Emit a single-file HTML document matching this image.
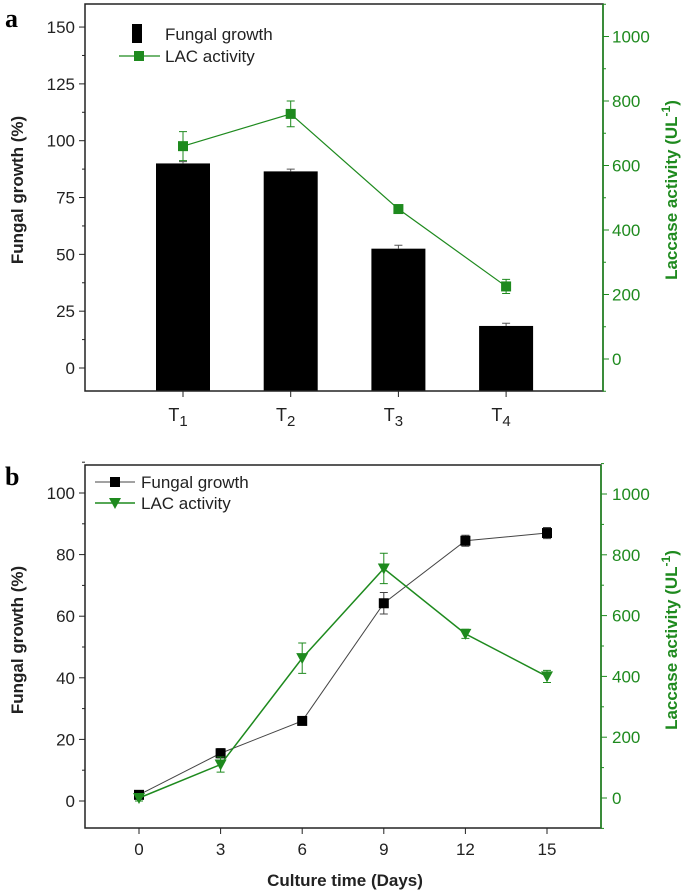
<!DOCTYPE html>
<html><head><meta charset="utf-8"><style>
html,body{margin:0;padding:0;background:#fff;}
svg{display:block;font-family:"Liberation Sans",Arial,sans-serif;}
</style></head><body>
<svg id="chart" width="685" height="895" viewBox="0 0 685 895"></svg>
<script>
// Panel a data
const aCategories = ["1","2","3","4"];
const aGrowth = [90, 86.5, 52.5, 18.5];
const aGrowthErr = [0.8, 1, 1.5, 1.2];
const aLac = [660, 760, 465, 225];
const aLacErr = [45, 40, 10, 22];
const aLeftTicks = [0,25,50,75,100,125,150];
const aRightTicks = [0,200,400,600,800,1000];
// Panel b data
const bDays = [0,3,6,9,12,15];
const bGrowth = [2, 15.5, 26, 64.2, 84.5, 87];
const bGrowthErr = [0.5, 1.5, 0.5, 3.5, 1.8, 1.8];
const bLac = [0, 110, 460, 755, 540, 400];
const bLacErr = [10, 25, 50, 50, 15, 20];
const bLeftTicks = [0,20,40,60,80,100];
const bRightTicks = [0,200,400,600,800,1000];
const bXTicks = [0,3,6,9,12,15];

const G = "#1e8a1e";
const svg = document.getElementById('chart');
const NS = "http://www.w3.org/2000/svg";
function mk(tag, attrs, parent){const e=document.createElementNS(NS,tag);for(const k in attrs)e.setAttribute(k,attrs[k]);(parent||svg).appendChild(e);return e;}
function txt(s, attrs, parent){const e=mk('text',attrs,parent);e.textContent=s;return e;}

// ---------- Panel a ----------
const ay = v => 368 - v*2.273;
const ary = v => 359 - v*0.3225;
const ax = i => 183 + i*107.7;
const pa = mk('g',{});


const la=txt('a',{x:5,y:27,'font-family':'Liberation Serif,serif','font-weight':'bold','font-size':26},pa);

aGrowth.forEach((v,i)=>{
  const b=mk('rect',{x:ax(i)-27,y:ay(v),width:54,height:391-ay(v),fill:'#000'},pa);
  
  const e=mk('path',{d:`M${ax(i)} ${ay(v+aGrowthErr[i])}V${ay(v)}M${ax(i)-4} ${ay(v+aGrowthErr[i])}H${ax(i)+4}`,stroke:'#555','stroke-width':1,fill:'none'},pa);
  
});
mk('rect',{x:85,y:4,width:518,height:387,fill:'none',stroke:'#222','stroke-width':1.5},pa);
mk('line',{x1:603,y1:4,x2:603,y2:391,stroke:G,'stroke-width':1.5},pa);
aLeftTicks.forEach(t=>{mk('line',{x1:79,x2:85,y1:ay(t),y2:ay(t),stroke:'#222'},pa);
  txt(String(t),{x:75,y:ay(t)+6,'text-anchor':'end','font-size':17,fill:'#222'},pa);
  if(t<150)mk('line',{x1:82,x2:85,y1:ay(t+12.5),y2:ay(t+12.5),stroke:'#222'},pa);});
aRightTicks.forEach(t=>{mk('line',{x1:603,x2:609,y1:ary(t),y2:ary(t),stroke:G},pa);
  txt(String(t),{x:612,y:ary(t)+6,'font-size':17,fill:G},pa);
  mk('line',{x1:603,x2:606,y1:ary(t+100),y2:ary(t+100),stroke:G},pa);});
mk('line',{x1:603,x2:606,y1:ary(-100),y2:ary(-100),stroke:G},pa);
aCategories.forEach((c,i)=>{mk('line',{x1:ax(i),x2:ax(i),y1:391,y2:397,stroke:'#222'},pa);
  const t=txt('T',{x:ax(i)-5,y:421,'text-anchor':'middle','font-size':18,fill:'#222'},pa);
  const s=mk('tspan',{dy:5,'font-size':15},t);s.textContent=c;});
// LAC line
mk('polyline',{points:aLac.map((v,i)=>ax(i)+','+ary(v)).join(' '),fill:'none',stroke:G,'stroke-width':1.2},pa);
aLac.forEach((v,i)=>{
  mk('path',{d:`M${ax(i)} ${ary(v+aLacErr[i])}V${ary(v-aLacErr[i])}M${ax(i)-4} ${ary(v+aLacErr[i])}H${ax(i)+4}M${ax(i)-4} ${ary(v-aLacErr[i])}H${ax(i)+4}`,stroke:G,'stroke-width':1,fill:'none'},pa);
  const m=mk('rect',{x:ax(i)-5,y:ary(v)-5,width:10,height:10,fill:G},pa);
  
});
// legend a
const lga=mk('g',{},pa);
mk('rect',{x:132,y:24,width:10,height:19,fill:'#000'},lga);
txt('Fungal growth',{x:165,y:40,'font-size':17,fill:'#222'},lga);
mk('line',{x1:119,x2:160,y1:56,y2:56,stroke:G,'stroke-width':1.2},lga);
mk('rect',{x:134,y:51,width:10,height:10,fill:G},lga);
txt('LAC activity',{x:165,y:62,'font-size':17,fill:'#222'},lga);
txt('Fungal growth (%)',{x:0,y:0,transform:'translate(23,190) rotate(-90)','text-anchor':'middle','font-size':17,'font-weight':'bold',fill:'#222'},pa);
const ra=txt('Laccase activity (UL',{x:0,y:0,transform:'translate(677,190) rotate(-90)','text-anchor':'middle','font-size':17,'font-weight':'bold',fill:G},pa);
const rs=mk('tspan',{dy:-7,'font-size':12},ra);rs.textContent='-1';const rs2=mk('tspan',{dy:7},ra);rs2.textContent=')';

// ---------- Panel b ----------
const by = v => 801 - v*3.08;
const bry = v => 798 - v*0.304;
const bx = d => 139 + d*27.2;
const pb = mk('g',{});


const lb=txt('b',{x:5,y:485,'font-family':'Liberation Serif,serif','font-weight':'bold','font-size':26},pb);

mk('rect',{x:85,y:465,width:516,height:363,fill:'none',stroke:'#222','stroke-width':1.5},pb);
mk('line',{x1:601,y1:465,x2:601,y2:828,stroke:G,'stroke-width':1.5},pb);
bLeftTicks.forEach(t=>{mk('line',{x1:79,x2:85,y1:by(t),y2:by(t),stroke:'#222'},pb);
  txt(String(t),{x:75,y:by(t)+6,'text-anchor':'end','font-size':17,fill:'#222'},pb);
  mk('line',{x1:82,x2:85,y1:by(t+10),y2:by(t+10),stroke:'#222'},pb);});
bRightTicks.forEach(t=>{mk('line',{x1:601,x2:607,y1:bry(t),y2:bry(t),stroke:G},pb);
  txt(String(t),{x:612,y:bry(t)+6,'font-size':17,fill:G},pb);
  mk('line',{x1:601,x2:604,y1:bry(t+100),y2:bry(t+100),stroke:G},pb);});
mk('line',{x1:601,x2:604,y1:bry(-100),y2:bry(-100),stroke:G},pb);
bXTicks.forEach(d=>{mk('line',{x1:bx(d),x2:bx(d),y1:828,y2:834,stroke:'#222'},pb);
  txt(String(d),{x:bx(d),y:855,'text-anchor':'middle','font-size':17,fill:'#222'},pb);});
txt('Culture time (Days)',{x:345,y:886,'text-anchor':'middle','font-size':17,'font-weight':'bold',fill:'#222'},pb);
txt('Fungal growth (%)',{x:0,y:0,transform:'translate(23,640) rotate(-90)','text-anchor':'middle','font-size':17,'font-weight':'bold',fill:'#222'},pb);
const rb=txt('Laccase activity (UL',{x:0,y:0,transform:'translate(677,640) rotate(-90)','text-anchor':'middle','font-size':17,'font-weight':'bold',fill:G},pb);
const rbs=mk('tspan',{dy:-7,'font-size':12},rb);rbs.textContent='-1';const rbs2=mk('tspan',{dy:7},rb);rbs2.textContent=')';
// growth line
mk('polyline',{points:bGrowth.map((v,i)=>bx(bDays[i])+','+by(v)).join(' '),fill:'none',stroke:'#444','stroke-width':1},pb);
bGrowth.forEach((v,i)=>{const x=bx(bDays[i]);
  mk('path',{d:`M${x} ${by(v+bGrowthErr[i])}V${by(v-bGrowthErr[i])}M${x-4} ${by(v+bGrowthErr[i])}H${x+4}M${x-4} ${by(v-bGrowthErr[i])}H${x+4}`,stroke:'#444','stroke-width':1,fill:'none'},pb);
  const m=mk('rect',{x:x-5,y:by(v)-5,width:10,height:10,fill:'#000'},pb);
  });
mk('polyline',{points:bLac.map((v,i)=>bx(bDays[i])+','+bry(v)).join(' '),fill:'none',stroke:G,'stroke-width':1.5},pb);
bLac.forEach((v,i)=>{const x=bx(bDays[i]);
  mk('path',{d:`M${x} ${bry(v+bLacErr[i])}V${bry(v-bLacErr[i])}M${x-4} ${bry(v+bLacErr[i])}H${x+4}M${x-4} ${bry(v-bLacErr[i])}H${x+4}`,stroke:G,'stroke-width':1,fill:'none'},pb);
  const y=bry(v);
  const m=mk('path',{d:`M${x-6} ${y-5}H${x+6}L${x} ${y+6}Z`,fill:G},pb);
  });
const lgb=mk('g',{},pb);
mk('line',{x1:95,x2:135,y1:482,y2:482,stroke:'#444'},lgb);
mk('rect',{x:110,y:477,width:10,height:10,fill:'#000'},lgb);
txt('Fungal growth',{x:141,y:488,'font-size':17,fill:'#222'},lgb);
mk('line',{x1:95,x2:135,y1:503,y2:503,stroke:G,'stroke-width':1.5},lgb);
mk('path',{d:'M109 498H121L115 509Z',fill:G},lgb);
txt('LAC activity',{x:141,y:509,'font-size':17,fill:'#222'},lgb);
</script>
</body></html>
